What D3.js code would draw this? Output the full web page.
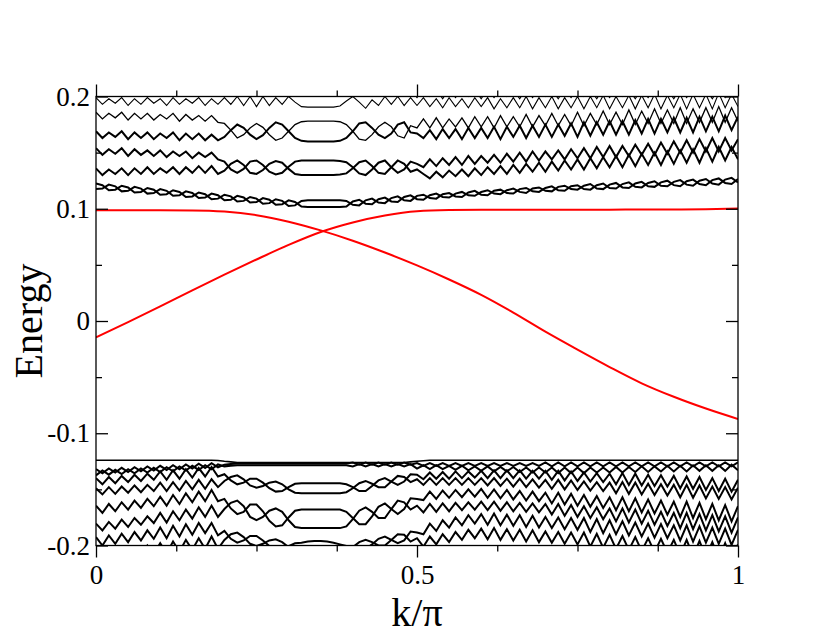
<!DOCTYPE html>
<html>
<head>
<meta charset="utf-8">
<script src="https://cdn.jsdelivr.net/npm/d3@7"></script>
<style>
  body { margin: 0; background: #fff; }
  svg text { font-family: "Liberation Serif", "Times New Roman", serif; fill: #000; }
</style>
</head>
<body>
<div id="chart"></div>
<script>
// k/pi sampling grid of the band calculation
const kGrid = [0,0.01,0.02,0.03,0.04,0.05,0.06,0.07,0.08,0.09,0.1,0.11,0.12,0.13,0.14,0.15,0.16,0.17,0.18,0.19,
  0.2,0.21,0.22,0.23,0.24,0.25,0.26,0.27,0.28,0.29,0.3,0.31,0.32,0.33,0.34,0.35,0.36,0.37,0.38,0.39,
  0.4,0.41,0.42,0.43,0.44,0.45,0.46,0.47,0.48,0.49,0.5,0.51,0.52,0.53,0.54,0.55,0.56,0.57,0.58,0.59,
  0.6,0.61,0.62,0.63,0.64,0.65,0.66,0.67,0.68,0.69,0.7,0.71,0.72,0.73,0.74,0.75,0.76,0.77,0.78,0.79,
  0.8,0.81,0.82,0.83,0.84,0.85,0.86,0.87,0.88,0.89,0.9,0.91,0.92,0.93,0.94,0.95,0.96,0.97,0.98,0.99,1];

// bulk bands, energies in units of 1e-3
const bandU0 = [205,202,206,201,205,203,206,201,205,202,206,201,205,202,206,201,205,202,206,201,
  204,207,203,208,203,209,203,208,204,207,203,
  205,208,208,208,208,208,208,208,206,
  201,207,211,205,201,208,201,207,201,206,
  199,207,200,206,198,207,199,207,200,206,198,207,199,207,200,206,198,207,199,207,200,206,198,207,199,
  207,200,206,198,207,199,207,200,206,198,207,199,207,200,206,198,207,199,207,200,206,198,207,199,206,200];
const bandU1 = [199,193,198,194,199,192,198,193,199,194,198,192,199,193,198,194,199,192,198,193,
  199,193,200,192,200,191,200,192,199,193,200,
  195,191,190.5,190.5,190.5,190.5,190.5,191.5,196,
  200,195,189.5,197,192,200,193,200,192,199,
  192,199,191,198,190,199,191,198,190,199,191,199,189,198,190,199,190,200,189,199,190,200,189,199,190,
  200,189,200,190,201,189,200,190,201,189,201,190,202,189,201,190,202,189,202,190,202,189,203,190,202,191];
const bandU2 = [186,180,185,181,186,179,185,180,185,179,184,180,185,178,184,179,183,178,183,177,
  176,170,163,166,172,176,172.5,166,161,163,169,
  175,177.5,178,178,178,178,178,177.5,175,
  169,162,161,166,173,177,173,165,163,174,172,
  180,172,181,172,180,173,181,172,182,173,182,172,183,173,182,173,184,173,183,174,185,174,184,174,186,
  174,185,175,187,175,186,175,188,175,187,176,189,176,188,176,190,176,189,177,190,177,191,177,190,178];
const bandU3 = [169,163,168,164,169,162,168,163,168,162,167,163,168,161,167,162,167,161,166,161,
  164,170,175,172,166,162,165.5,172,177,175,169,
  163,160.5,160,160,160,160,160,160.5,163,
  169,176,177,172,166,163,167,175,177,168,167,
  163,170,162,171,163,171,162,172,163,172,163,173,162,173,164,174,163,174,164,175,164,175,165,176,164,
  177,165,177,166,178,166,178,166,179,167,180,167,180,168,181,168,181,168,182,169,182,169,183,170,182];
const bandU4 = [154,148,153,149,154,147,153,148,152,147,152,146,151,147,151,145,150,146,150,144,
  142,135,132,135.5,142,143,139,133,130.5,132,137.5,
  142,143,143,143,143,143,143,142.5,141.5,
  137,131.5,130,135,141,143,137,132,135,142,140,
  137,144,138,145,139,146,139,147,140,147,141,148,141,149,142,150,142,151,143,151,144,152,144,153,145,
  154,145,155,146,156,146,156,147,157,148,158,148,159,149,160,150,161,150,162,151,163,151,163,152,162];
const bandU5 = [136,130,135,131,136,130,136,131,137,131,136,132,137,131,137,132,138,132,138,131,
  134,140,143,139,132,131,134.5,140,142.5,141,135.5,
  131,130,130,130,130,130,130,130.5,131.5,
  136,141.5,143,138,132,131,137,143,140,133,135,
  131,127,133,128,134,129,135,129,136,130,137,131,138,131,139,132,140,133,141,133,142,134,143,135,144,
  135,145,136,146,137,147,137,148,138,149,139,150,139,151,140,152,141,153,141,154,142,155,143,155,144];
const bandU6 = [122.5,121,116.5,117,120.5,119,114.5,115,118.5,117,112.5,113,116.5,115,110.5,111,114.5,113,108.5,109,
  112.5,111,106.5,107,110.5,109,104.5,105,108.5,107,102.5,103,
  107,107.5,107.5,107.5,107.5,107.5,107.5,107,
  103.5,103,107.5,109,105.5,105,109.5,111,107.5,107,111.5,112.5,109.5,109,113,114,111,110.5,114.5,116,
  112.5,112,116,117,114,113.5,117.5,118.5,115.5,115,118.5,120,116.5,116,120,121,117.5,117,121,122.5,
  118.5,118,122,123.5,119.5,119,123,124.5,120.5,120,124,125.5,121.5,120.5,125,126.5,122.5,121.5,126,127.5,123.5];
const bandU7 = [117.5,118,121.5,120,115.5,116,119.5,118,113.5,114,117.5,116,111.5,112,115.5,114,109.5,110,113.5,112,
  107.5,108,111.5,110,105.5,106,109.5,108,103.5,104,107.5,106,
  102,101.5,101.5,101.5,101.5,101.5,101.5,102,
  106.5,108,104.5,104,108.5,110,106.5,106,110.5,112,108.5,108,112,113.5,110.5,110,113.5,115,112,111.5,
  115,116.5,113.5,113,116.5,118,115,114,118,119,116,115.5,119.5,120.5,117.5,117,120.5,122,118,117.5,
  121.5,123,119,118.5,122.5,124,120,119.5,123.5,125,121,120,124.5,126,122,121,125.5,127,123,122,126.5];

// top of the lower bulk: smooth band, own k points
const bandL1K = [0,0.18,0.19,0.2,0.21,0.22,0.48,0.49,0.5,0.51,0.52,1];
const bandL1 = [-124,-124,-124.3,-125,-125.5,-126,-126,-125.5,-125,-124.5,-124,-124];
const bandL2 = [-132,-135.7,-131.4,-135.1,-130.8,-134.5,-130.2,-133.9,-129.6,-133.3,-129,-132.7,-128.4,-132.1,-127.8,-131.5,-127.2,-130.9,-126.6,-130.3,
  -128,-127.5,-127,-127,-127,-127,-127,-127,-127,-127,-127,-127,-127,-127,-127,-127,-127,-127,-127,-127,
  -126,-128,-126,-128,-126,-128,-126,-128,-126,-128,
  -126.5,-129,-126.5,-129,-126.5,-129,-126.5,-129,-126.5,-129,-126.5,-129,-126.5,-129,-126.5,-129,-126.5,-129,-126.5,-129,
  -126,-129.5,-126,-129.5,-126,-129.5,-126,-129.5,-126,-129.5,-126,-129.5,-126,-129.5,-126,-129.5,
  -126,-129.5,-126,-129.5,-126,-129.5,-126,-129.5,-126,-129.5,-126,-129.5,-126,-129.5,-126];
const bandL2b = [-137.5,-133.2,-136.9,-132.6,-136.3,-132,-135.7,-131.4,-135.1,-130.8,-134.5,-130.2,-133.9,-129.6,-133.3,-129,-132.7,-128.4,-132.1,-127.8,
  -129.5,-129,-128.5,-128.5,-128.5,-128.5,-128.5,-128.5,-128.5,-128.5,-128.5,-128.5,-128.5,-128.5,-128.5,-128.5,-128.5,-128.5,-128.5,-128.5,
  -129.5,-127.5,-129.5,-127.5,-129.5,-127.5,-129.5,-127.5,-129.5,-127.5,
  -131.5,-128.5,-132,-128.5,-132,-129,-132.5,-129,-133,-129.5,-133.5,-129.5,-134,-130,-134,-130,-134.5,-130.5,-135,-130.5,
  -135,-130.5,-135.5,-130.5,-135.5,-130.5,-135.5,-130.5,-135,-130.5,-135,-130,-135,-130,-134.5,-129.5,-134.5,-129.5,-134,-129,
  -134,-129,-134,-128.5,-133.5,-128.5,-133.5,-128.5,-133.5,-128,-133];
const bandL3 = [-140,-145.5,-139,-144.5,-138,-143.5,-137,-142.5,-136,-141.5,-134,-141.5,-133,-140.5,-132,-139.5,-131,-138.5,-130,-138.5,
  -136.5,-142,-145.5,-144,-140.5,-140.5,-144,-149,-152,-151.5,-148,-145,
  -144.5,-144.5,-144.5,-144.5,-144.5,-144.5,-144.5,
  -145.5,-148,-151.5,-151.5,-147,-142,-140,-143,-146,-143,-136.5,-137,
  -141,-135,-140.5,-134.5,-140.5,-134,-140,-134,-139.5,-133.5,-140,-133,-140,-133,-140,-133,-140.5,-133.5,-140.5,-133.5,
  -141.5,-133.5,-142,-134,-142.5,-135,-143,-135.5,-143.5,-136,-145.5,-135.5,-146,-136,-146.5,-137,-147,-137.5,-147.5,-138,
  -149,-138.5,-149.5,-139,-150.5,-140,-151.5,-140.5,-152,-141.5];
const bandL4 = [-149,-154.5,-148,-154,-147.5,-153,-146.5,-152.5,-146,-151.5,-144,-151.5,-143.5,-151,-142.5,-150,-141.5,-149.5,-141,-148,
  -142.5,-139,-137.5,-141,-146.5,-148.5,-147,-144,-143,-145.5,-150,-153,
  -153.5,-153.5,-153.5,-153.5,-153.5,-153.5,-153.5,
  -152.5,-149,-144.5,-142.5,-145,-148,-148,-143,-138,-139,-143.5,-141,
  -146,-140,-146,-140,-146,-140,-146,-140,-146,-140,-146.5,-140,-147,-140.5,-147.5,-140.5,-148,-141,-148.5,-141.5,
  -149.5,-141.5,-150,-142,-150.5,-143,-151,-143.5,-151.5,-144,-153.5,-143.5,-154,-144,-154.5,-145,-155,-145.5,-155.5,-146,
  -157,-146,-157.5,-146.5,-158,-147.5,-158.5,-148,-159,-148.5];
const bandL5 = [-164.5,-171,-163,-169.5,-161.5,-168,-160,-166.5,-158.5,-165,-156.5,-164.5,-155,-163,-153.5,-161.5,-152,-160.5,-150.5,-160.5,
  -158.5,-167,-172,-170,-163.5,-163.5,-169.5,-178,-183,-182,-175,-169,
  -168,-168,-168,-168,-168,-168,-168,
  -170,-175.5,-181,-181,-174,-165.5,-162.5,-167.5,-172,-167.5,-158,-158.5,
  -159.5,-152,-158.5,-151,-157.5,-150.5,-157,-150,-156.5,-149.5,-157.5,-150,-158,-150.5,-159,-151.5,-160,-152,-160.5,-153,
  -162.5,-153,-163.5,-154,-164.5,-155,-165.5,-156,-166.5,-157,-168.5,-157,-169.5,-158,-170.5,-159,-171.5,-160,-172.5,-161,
  -174.5,-161,-175.5,-162,-176.5,-163,-177.5,-164,-178.5,-165];
const bandL6 = [-180.5,-186.5,-179,-185,-177,-183.5,-175.5,-181.5,-174,-180,-171,-179.5,-169.5,-177.5,-168,-176,-166,-174.5,-164.5,-174.5,
  -167.5,-162,-160,-165,-174.5,-177.5,-174.5,-169,-167,-170,-177.5,-183.5,
  -184.5,-184.5,-184.5,-184.5,-184.5,-184.5,-184.5,
  -183,-176.5,-169,-166,-170,-175.5,-175.5,-167.5,-160,-161.5,-168,-164.5,
  -170.5,-163,-170,-162.5,-169.5,-162,-168.5,-161.5,-168,-161,-168.5,-161,-169,-161.5,-169.5,-162,-170,-162.5,-170.5,-163,
  -172.5,-163,-173.5,-164,-174.5,-165,-175.5,-166,-176.5,-167,-178.5,-167,-179.5,-168,-180.5,-169,-181.5,-170,-182.5,-171,
  -184.5,-171,-185.5,-172,-186.5,-173,-187.5,-174,-188.5,-175];
const bandL7 = [-192.5,-200,-191,-198.5,-189.5,-197,-188,-195.5,-186.5,-194,-184,-193.5,-182.5,-192,-181,-190.5,-180,-189,-180,-191,
  -187,-194,-197.5,-195.5,-191.5,-191.5,-195.5,-200.5,-203.5,-203,-200.5,-198,
  -197.5,-196.5,-196,-196,-196.5,-197.5,-199,
  -200.5,-200.5,-203,-203,-199,-194,-192,-195,-198,-195.5,-187.5,-188.5,
  -190,-180.5,-187,-177.5,-184,-175,-182,-173,-180.5,-172,-181.5,-171.5,-182,-172.5,-182.5,-173,-183.5,-173.5,-184,-174.5,
  -184.5,-175,-185.5,-175.5,-186,-175.5,-188,-176.5,-189,-177.5,-190,-178.5,-191,-179.5,-192,-180.5,-193,-181,-193.5,-182,
  -195.5,-182,-196.5,-183,-197.5,-184,-198.5,-185,-199.5,-186];
const bandL8 = [-206,-213.5,-204.5,-212,-203,-210.5,-201.5,-209,-200,-207.5,-198,-207,-196.5,-205.5,-195,-204,-193.5,-203,-192,-203,
  -195,-190,-188.5,-192.5,-198.5,-200.5,-198.5,-195.5,-194.5,-197,-201.5,-205,
  -205,-205,-205,-205,-205,-205,-205,
  -202.5,-201.5,-197,-195,-197,-200,-200,-195,-190,-190.5,-196.5,-193.5,
  -201,-192,-199,-190,-197,-188,-195,-186,-193.5,-185,-194.5,-184.5,-195,-185.5,-195.5,-186,-196.5,-186.5,-197,-187.5,
  -197.5,-188,-198.5,-188.5,-199,-188.5,-201,-189.5,-202,-190.5,-203,-191.5,-204,-192.5,-205,-193.5,-206,-194,-206.5,-195,
  -208.5,-195,-209.5,-196,-210.5,-197,-211.5,-198,-212.5,-199];

// in-gap (edge) states, units of 1e-3
const redK = [0,0.05,0.1,0.15,0.2,0.25,0.3,0.35,0.4,0.45,0.5,0.55,0.6,0.65,0.7,0.75,0.8,0.85,0.9,0.95,1];
const edgeDown = [98.7,98.6,98.6,98.5,97.5,94.3,88.5,80.7,71.5,61,49.5,37,23.3,7.5,-9.5,-25.5,-41,-55.5,-67.5,-78,-87.3];
const edgeUp = [-14.5,-1,13,27.3,41.3,54.8,67.8,79.3,87.8,94,97.8,98.8,99,99,99.1,99.1,99.2,99.3,99.4,99.6,100.2];

const xMajor = [0, 0.5, 1];
const xLabels = ["0", "0.5", "1"];
const xMinor = [0.125, 0.25, 0.375, 0.625, 0.75, 0.875];
const yMajor = [-0.2, -0.1, 0, 0.1, 0.2];
const yLabels = ["-0.2", "-0.1", "0", "0.1", "0.2"];
const yMinor = [-0.15, -0.05, 0.05, 0.15];

const width = 830, height = 642;
const x = d3.scaleLinear().domain([0, 1]).range([96, 738]);
const y = d3.scaleLinear().domain([-0.2, 0.2]).range([545.5, 96.5]);

const svg = d3.select("#chart").append("svg")
  .attr("width", width)
  .attr("height", height);

svg.append("defs").append("clipPath").attr("id", "plot-clip")
  .append("rect")
  .attr("x", x(0)).attr("y", y(0.2))
  .attr("width", x(1) - x(0)).attr("height", y(-0.2) - y(0.2));

const plot = svg.append("g").attr("clip-path", "url(#plot-clip)");

function bandPath(ks) {
  return d3.line()
    .x((d, i) => x(ks[i]))
    .y(d => y(d / 1000));
}

// [values, k points, stroke width]
const blackBands = [
  [bandU0, kGrid, 1.1], [bandU1, kGrid, 1.1], [bandU2, kGrid, 1.3], [bandU3, kGrid, 2],
  [bandU4, kGrid, 2], [bandU5, kGrid, 2], [bandU6, kGrid, 2], [bandU7, kGrid, 2],
  [bandL1, bandL1K, 1.6], [bandL2, kGrid, 2], [bandL2b, kGrid, 2], [bandL3, kGrid, 2],
  [bandL4, kGrid, 2], [bandL5, kGrid, 2], [bandL6, kGrid, 2], [bandL7, kGrid, 2], [bandL8, kGrid, 2]
];

blackBands.forEach(b => {
  plot.append("path")
    .attr("d", bandPath(b[1])(b[0]))
    .attr("fill", "none")
    .attr("stroke", "#000")
    .attr("stroke-width", b[2])
    .attr("stroke-linejoin", "miter");
});

[edgeDown, edgeUp].forEach(vals => {
  plot.append("path")
    .attr("d", bandPath(redK).curve(d3.curveMonotoneX)(vals))
    .attr("fill", "none")
    .attr("stroke", "#ff0000")
    .attr("stroke-width", 2);
});

// frame
svg.append("rect")
  .attr("x", x(0)).attr("y", y(0.2))
  .attr("width", x(1) - x(0)).attr("height", y(-0.2) - y(0.2))
  .attr("fill", "none").attr("stroke", "#000").attr("stroke-width", 1.3);

function styleAxis(g, size) {
  g.select(".domain").remove();
  g.selectAll(".tick line").attr("stroke", "#000").attr("stroke-width", 1.3);
  g.selectAll("text").attr("font-size", size).attr("font-family", null).attr("fill", "#000");
  g.attr("font-family", null);
}

svg.append("g").attr("transform", `translate(0,${y(-0.2)})`)
  .call(d3.axisBottom(x).tickValues(xMajor).tickSize(12).tickPadding(7).tickFormat((d, i) => xLabels[i]))
  .call(g => styleAxis(g, 27));
svg.append("g").attr("transform", `translate(0,${y(-0.2)})`)
  .call(d3.axisBottom(x).tickValues(xMinor).tickSize(6).tickFormat(""))
  .call(g => styleAxis(g, 27));
svg.append("g").attr("transform", `translate(0,${y(0.2)})`)
  .call(d3.axisTop(x).tickValues(xMajor).tickSize(12).tickFormat(""))
  .call(g => styleAxis(g, 27));
svg.append("g").attr("transform", `translate(0,${y(0.2)})`)
  .call(d3.axisTop(x).tickValues(xMinor).tickSize(6).tickFormat(""))
  .call(g => styleAxis(g, 27));

svg.append("g").attr("transform", `translate(${x(0)},0)`)
  .call(d3.axisLeft(y).tickValues(yMajor).tickSize(-12).tickPadding(6).tickFormat((d, i) => yLabels[i]))
  .call(g => styleAxis(g, 27));
svg.append("g").attr("transform", `translate(${x(0)},0)`)
  .call(d3.axisLeft(y).tickValues(yMinor).tickSize(-6).tickFormat(""))
  .call(g => styleAxis(g, 27));
svg.append("g").attr("transform", `translate(${x(1)},0)`)
  .call(d3.axisRight(y).tickValues(yMajor).tickSize(-12).tickFormat(""))
  .call(g => styleAxis(g, 27));
svg.append("g").attr("transform", `translate(${x(1)},0)`)
  .call(d3.axisRight(y).tickValues(yMinor).tickSize(-6).tickFormat(""))
  .call(g => styleAxis(g, 27));

// axis titles
svg.append("text")
  .attr("transform", `translate(42,${y(0)}) rotate(-90)`)
  .attr("text-anchor", "middle")
  .attr("font-size", 40)
  .text("Energy");

svg.append("text")
  .attr("x", x(0.5))
  .attr("y", 626)
  .attr("text-anchor", "middle")
  .attr("font-size", 40)
  .text("k/π");
</script>
</body>
</html>
